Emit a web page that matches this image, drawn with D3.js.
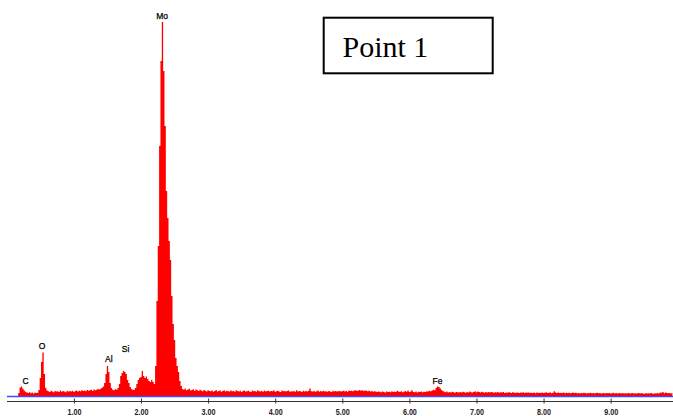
<!DOCTYPE html>
<html>
<head>
<meta charset="utf-8">
<script src="https://cdnjs.cloudflare.com/ajax/libs/d3/7.8.5/d3.min.js"></script>
<style>
  body { margin: 0; background: #fff; }
  svg { display: block; }
  .tick text { font-family: "Liberation Sans", Arial, sans-serif; font-weight: bold; font-size: 9.5px; fill: #222; }
  .peak-label { font-family: "Liberation Sans", Arial, sans-serif; font-size: 8.5px; fill: #000; stroke: #000; stroke-width: 0.25px; }
</style>
</head>
<body>
<svg id="chart"></svg>
<script>
let WIDTH = 673;
let HEIGHT = 416;

// channel calibration (keV)
let E_START = 0.16;
let E_STEP = 0.02;

// counts per channel
let counts = [
  0, 30, 85, 95, 72, 55, 42, 35, 30, 38,
  28, 34, 25, 36, 30, 33, 60, 180, 340, 435,
  220, 80, 55, 48, 40, 52, 45, 38, 50, 44,
  47, 40, 55, 42, 50, 46, 38, 52, 44, 49,
  45, 53, 41, 50, 56, 44, 52, 47, 58, 50,
  55, 48, 60, 52, 57, 63, 50, 66, 58, 62,
  70, 65, 72, 82, 95, 130, 220, 300, 240, 130,
  80, 62, 58, 70, 62, 80, 120, 200, 230, 250,
  240, 220, 160, 130, 90, 70, 60, 62, 80, 120,
  160, 180, 190, 250, 200, 180, 195, 170, 150, 140,
  160, 140, 120, 300, 950, 1500, 2500, 3350, 3740, 3250,
  2700, 2050, 1780, 1550, 1360, 1000, 720, 560, 380, 300,
  240, 150, 100, 70, 62, 75, 58, 66, 72, 55,
  60, 68, 52, 64, 57, 49, 62, 55, 48, 60,
  52, 45, 58, 50, 47, 55, 43, 51, 60, 46,
  49, 54, 42, 50, 57, 45, 52, 48, 44, 56,
  47, 51, 43, 58, 49, 45, 53, 41, 50, 55,
  44, 48, 52, 46, 40, 54, 47, 50, 43, 57,
  48, 45, 51, 42, 55, 46, 49, 53, 44, 50,
  47, 58, 43, 48, 52, 45, 41, 54, 47, 50,
  44, 49, 55, 42, 48, 46, 51, 43, 57, 45,
  50, 47, 41, 53, 46, 49, 44, 52, 75, 48,
  45, 51, 43, 47, 55, 42, 49, 46, 52, 44,
  48, 43, 50, 46, 41, 52, 45, 49, 44, 47,
  51, 44, 48, 53, 46, 50, 43, 55, 49, 52,
  47, 54, 58, 50, 56, 61, 52, 57, 49, 55,
  53, 48, 56, 45, 50, 42, 47, 44, 40, 46,
  43, 38, 45, 41, 36, 44, 39, 42, 37, 48,
  41, 46, 39, 52, 44, 40, 47, 38, 43, 49,
  42, 55, 40, 46, 58, 41, 38, 44, 36, 42,
  39, 45, 37, 43, 40, 48, 44, 52, 47, 55,
  62, 58, 80, 95, 90, 78, 60, 50, 42, 38,
  44, 36, 40, 35, 42, 38, 33, 41, 37, 34,
  39, 35, 42, 37, 33, 40, 36, 45, 38, 34,
  41, 48, 37, 44, 39, 35, 42, 38, 33, 40,
  36, 39, 34, 41, 37, 32, 38, 35, 40, 33,
  37, 34, 39, 31, 36, 33, 38, 35, 30, 37,
  34, 31, 36, 33, 29, 35, 32, 38, 30, 34,
  32, 36, 29, 33, 31, 35, 28, 34, 30, 33,
  31, 35, 29, 33, 37, 30, 32, 34, 28, 33,
  48, 36, 31, 34, 29, 33, 30, 35, 28, 32,
  30, 33, 27, 31, 34, 29, 32, 28, 31, 26,
  30, 27, 32, 29, 26, 31, 28, 33, 27, 30,
  26, 29, 32, 27, 30, 25, 28, 31, 26, 29,
  27, 30, 25, 28, 32, 26, 29, 24, 28, 31,
  26, 29, 25, 28, 24, 30, 27, 25, 29, 26,
  28, 24, 27, 30, 25, 29, 26, 23, 28, 25,
  27, 24, 29, 26, 23, 28, 25, 30, 26, 35,
  32, 40, 28, 34, 30, 27, 31, 26, 29
];

// element labels
let elements = ['C', 'O', 'Al', 'Si', 'Mo', 'Fe'];
let labelEnergy = [0.28, 0.525, 1.52, 1.77, 2.315, 6.42];
let labelLevel = [153, 500, 367, 470, 3795, 153];

let tickValues = [1, 2, 3, 4, 5, 6, 7, 8, 9];

let title = 'Point 1';

let svg = d3.select('#chart')
  .attr('width', WIDTH)
  .attr('height', HEIGHT);

let spectrum = counts.map((c, i) => ({e: E_START + i * E_STEP, c: c}));

let sx = d3.scaleLinear().domain([0, 9.92]).range([6.8, 672.4]);
let sy = d3.scaleLinear().domain([0, 3740]).range([396, 22]);

let area = d3.area()
  .curve(d3.curveStep)
  .x(d => sx(d.e))
  .y0(sy(0))
  .y1(d => sy(d.c));

svg.append('path')
  .datum(spectrum)
  .attr('fill', '#ff0000')
  .attr('d', area);

// baseline
svg.append('line')
  .attr('x1', 7).attr('x2', WIDTH)
  .attr('y1', sy(0) + 0.5).attr('y2', sy(0) + 0.5)
  .attr('stroke', '#4646ff')
  .attr('stroke-width', 1.5);

// energy axis
let xAxis = d3.axisBottom(sx)
  .tickValues(tickValues)
  .tickFormat(d3.format('.2f'))
  .tickSize(2)
  .tickSizeOuter(0);

let gx = svg.append('g')
  .attr('transform', 'translate(0,401.5)')
  .call(xAxis);

gx.select('.domain')
  .attr('d', `M7,0H${WIDTH}`)
  .attr('stroke', '#333');
gx.selectAll('.tick line')
  .attr('y1', -3)
  .attr('y2', 2)
  .attr('stroke', '#333');
gx.selectAll('.tick text')
  .attr('y', 6.5)
  .attr('textLength', 14)
  .attr('lengthAdjust', 'spacingAndGlyphs');

// peak labels
svg.append('g')
  .selectAll('text')
  .data(elements)
  .join('text')
    .attr('class', 'peak-label')
    .attr('x', (d, i) => sx(labelEnergy[i]))
    .attr('y', (d, i) => sy(labelLevel[i]))
    .attr('dy', '0.35em')
    .attr('text-anchor', 'middle')
    .text(d => d);

// annotation box
let box = svg.append('g');
box.append('rect')
  .attr('x', 323.7)
  .attr('y', 17.7)
  .attr('width', 169)
  .attr('height', 55.6)
  .attr('fill', '#fff')
  .attr('stroke', '#000')
  .attr('stroke-width', 2);
box.append('text')
  .attr('x', 342.5)
  .attr('y', 56.5)
  .style('font-family', '"Liberation Serif", "Times New Roman", serif')
  .style('font-size', '30px')
  .attr('fill', '#000')
  .text(title);
</script>
</body>
</html>
